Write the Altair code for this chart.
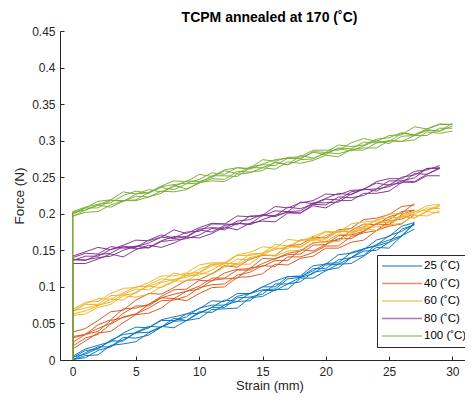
import altair as alt
import pandas as pd

# ---------------- data (force values in mN) -------------
STRAIN_MM = [0, 1, 2, 3, 4, 5, 6, 7, 8, 9, 10, 11, 12, 13, 14, 15, 16, 17, 18, 19,
             20, 21, 22, 23, 24, 25, 26, 27, 28, 29, 30]

GROUPS = ["25 (˚C)", "40 (˚C)", "60 (˚C)", "80 (˚C)", "100 (˚C)"]
COLORS = ["#0072BD", "#D95319", "#EDB120", "#7E2F8E", "#77AC30"]

FORCE_25 = [
    [0, 6, 7, 20, 22, 25, 37, 46, 44, 54, 57, 69, 70, 71, 85, 87, 96, 97, 112, 112, 122, 131, 132, 142, 154, 153, 170, 179],
    [1, 3, 13, 18, 31, 30, 34, 45, 53, 54, 66, 65, 75, 80, 81, 95, 95, 104, 107, 120, 123, 126, 140, 149, 150, 161, 169, 188],
    [0, 10, 18, 18, 28, 37, 38, 45, 57, 54, 64, 72, 72, 85, 86, 90, 104, 104, 113, 118, 130, 131, 140, 143, 158, 164, 170, 186],
    [4, 8, 16, 26, 26, 38, 46, 45, 53, 63, 64, 72, 82, 80, 91, 96, 97, 111, 113, 125, 125, 137, 140, 152, 156, 161, 179, 185],
    [3, 13, 15, 27, 35, 37, 44, 54, 54, 59, 71, 75, 75, 87, 91, 100, 100, 114, 114, 122, 132, 133, 147, 152, 157, 170, 176, 186],
    [5, 15, 20, 25, 37, 45, 44, 55, 59, 63, 70, 81, 80, 91, 91, 100, 108, 114, 115, 129, 131, 144, 146, 151, 164, 169, 183, 188],
]
FORCE_40 = [
    [15, 26, 37, 39, 51, 62, 64, 71, 84, 81, 91, 99, 100, 113, 114, 118, 131, 130, 139, 142, 153, 153, 161, 164, 177, 183, 186, 199],
    [19, 30, 35, 49, 59, 63, 71, 81, 82, 87, 99, 103, 104, 116, 120, 129, 128, 141, 141, 147, 156, 156, 169, 174, 177, 190, 193, 200],
    [24, 35, 39, 54, 58, 63, 76, 85, 84, 94, 97, 109, 111, 112, 126, 128, 136, 136, 151, 149, 158, 166, 166, 176, 186, 185, 199, 205],
    [30, 35, 43, 50, 64, 74, 74, 85, 90, 94, 101, 112, 112, 123, 123, 132, 139, 144, 145, 157, 158, 170, 171, 176, 187, 192, 203, 205],
    [32, 35, 48, 55, 70, 71, 76, 87, 96, 97, 109, 108, 119, 124, 125, 139, 138, 146, 149, 160, 162, 164, 177, 186, 185, 196, 201, 214],
    [38, 43, 54, 66, 68, 82, 91, 90, 99, 109, 110, 118, 129, 127, 138, 143, 143, 156, 158, 168, 167, 178, 180, 192, 194, 199, 210, 212],
]
FORCE_60 = [
    [61, 63, 72, 76, 88, 86, 90, 100, 108, 108, 119, 117, 127, 131, 131, 144, 142, 149, 150, 161, 161, 162, 173, 180, 177, 185, 187, 198, 197, 204],
    [63, 67, 74, 83, 82, 93, 101, 99, 107, 116, 116, 123, 133, 130, 140, 144, 143, 155, 155, 165, 162, 172, 172, 182, 182, 184, 196, 194, 203, 201],
    [67, 71, 75, 79, 90, 97, 96, 106, 110, 113, 119, 129, 128, 138, 137, 145, 151, 155, 154, 166, 165, 176, 175, 178, 187, 189, 197, 194, 204, 210],
    [66, 76, 76, 88, 89, 91, 103, 111, 109, 118, 120, 131, 132, 132, 145, 146, 153, 152, 165, 163, 170, 177, 175, 183, 191, 187, 198, 199, 208, 207],
    [67, 77, 84, 83, 92, 100, 101, 107, 119, 115, 124, 131, 131, 143, 143, 146, 158, 156, 163, 166, 175, 174, 180, 181, 192, 195, 195, 203, 205, 212],
    [69, 79, 80, 91, 98, 99, 106, 115, 115, 119, 130, 133, 133, 144, 147, 155, 153, 165, 163, 169, 176, 175, 186, 189, 190, 200, 200, 202, 211, 213],
]
FORCE_80 = [
    [132, 132, 138, 145, 141, 151, 157, 154, 160, 168, 167, 173, 182, 178, 187, 190, 189, 201, 201, 211, 208, 218, 218, 228, 228, 231, 243, 243, 252, 252],
    [137, 137, 140, 142, 150, 156, 153, 162, 164, 166, 171, 180, 178, 187, 185, 192, 198, 202, 201, 213, 212, 223, 222, 225, 234, 237, 245, 244, 254, 262],
    [138, 136, 144, 146, 155, 152, 154, 163, 169, 168, 178, 175, 184, 187, 186, 198, 196, 203, 204, 215, 215, 216, 227, 234, 231, 240, 242, 255, 254, 263],
    [136, 142, 142, 151, 155, 155, 160, 168, 166, 169, 179, 181, 180, 190, 192, 199, 197, 209, 207, 213, 220, 219, 230, 233, 234, 245, 245, 249, 262, 262],
    [140, 146, 145, 155, 153, 154, 164, 171, 167, 175, 176, 186, 186, 185, 197, 197, 204, 203, 216, 214, 221, 228, 226, 234, 242, 239, 250, 253, 262, 263],
    [142, 148, 154, 151, 157, 164, 163, 168, 178, 173, 181, 187, 186, 197, 196, 198, 210, 208, 215, 218, 227, 226, 232, 233, 244, 248, 248, 258, 260, 266],
]
FORCE_100 = [
    [197, 202, 203, 212, 218, 218, 223, 231, 230, 233, 243, 245, 244, 254, 256, 263, 261, 271, 269, 273, 280, 278, 288, 290, 290, 300, 299, 301, 312, 310, 313],
    [196, 205, 212, 209, 217, 224, 223, 228, 239, 234, 242, 248, 247, 258, 257, 259, 271, 267, 274, 275, 284, 282, 287, 287, 297, 300, 299, 307, 307, 317, 317],
    [199, 208, 208, 218, 218, 219, 229, 236, 233, 241, 242, 252, 252, 251, 263, 263, 270, 267, 280, 276, 283, 289, 286, 293, 300, 296, 306, 307, 314, 313, 320],
    [202, 205, 212, 219, 217, 227, 233, 230, 237, 245, 244, 250, 259, 255, 264, 267, 266, 276, 276, 284, 281, 290, 289, 298, 297, 299, 310, 308, 315, 313, 324],
    [203, 209, 213, 215, 225, 231, 228, 237, 240, 242, 247, 256, 254, 263, 261, 268, 274, 276, 275, 285, 284, 294, 292, 294, 302, 304, 311, 308, 316, 322, 322],
    [201, 208, 217, 219, 230, 227, 229, 238, 245, 244, 254, 251, 260, 263, 262, 274, 272, 277, 278, 287, 287, 287, 297, 303, 299, 307, 308, 319, 316, 323, 322],
]

X_TICKS = [0, 5, 10, 15, 20, 25, 30]
Y_TICKS = [0, 0.05, 0.1, 0.15, 0.2, 0.25, 0.3, 0.35, 0.4, 0.45]

# ---------------- table -------------
rows = []
for group, trials in zip(GROUPS, [FORCE_25, FORCE_40, FORCE_60, FORCE_80, FORCE_100]):
    for t, series in enumerate(trials):
        tid = f"{group}-{t}"
        rows.append({"group": group, "trial": tid, "idx": 0, "strain": 0, "force": 0.0})
        for i, v in enumerate(series):
            rows.append({"group": group, "trial": tid, "idx": i + 1,
                         "strain": STRAIN_MM[i], "force": v / 1000.0})
df = pd.DataFrame(rows)

FONT = "Liberation Sans"
AX = "#262626"
W, H = 405, 329

xscale = alt.Scale(domain=[-1, 31], nice=False, zero=False)
yscale = alt.Scale(domain=[0, 0.45], nice=False, zero=False)

lines = alt.Chart(df).mark_line(strokeWidth=0.95, clip=True).encode(
    x=alt.X("strain:Q", scale=xscale,
            axis=alt.Axis(values=X_TICKS, title="Strain (mm)", ticks=False, grid=False,
                          labelPadding=6, titlePadding=2, titleX=209.5,
                          domainColor=AX, labelColor=AX, titleColor=AX,
                          labelFont=FONT, titleFont=FONT, labelFontSize=12,
                          titleFontSize=13, titleFontWeight="normal")),
    y=alt.Y("force:Q", scale=yscale,
            axis=alt.Axis(values=Y_TICKS, format=".2~f", title="Force (N)", ticks=False,
                          grid=False, labelPadding=5, titlePadding=5,
                          domainColor=AX, labelColor=AX, titleColor=AX,
                          labelFont=FONT, titleFont=FONT, labelFontSize=12,
                          titleFontSize=13.5, titleFontWeight="normal")),
    color=alt.Color("group:N", scale=alt.Scale(domain=GROUPS, range=COLORS),
                    legend=alt.Legend(orient="none", legendX=317, legendY=224, title=None,
                                      symbolType="M-4,0H4", symbolSize=100,
                                      symbolOffset=14, labelOffset=16,
                                      symbolStrokeWidth=1.6, symbolOpacity=0.65,
                                      labelFont=FONT, labelFontSize=11.5, labelColor="#000000",
                                      rowPadding=5.5, padding=5, strokeColor=AX,
                                      fillColor="white")),
    detail="trial:N",
    order="idx:Q",
)

tick_layer = alt.Chart(df).mark_point(opacity=0).encode(
    x=alt.X("strain:Q", scale=xscale,
            axis=alt.Axis(orient="top", offset=-H, values=X_TICKS, labels=False, domain=False,
                          grid=False, title="", tickSize=4, tickColor=AX)),
    y=alt.Y("force:Q", scale=yscale,
            axis=alt.Axis(orient="right", offset=-W, values=Y_TICKS, labels=False, domain=False,
                          grid=False, title="", tickSize=4, tickColor=AX)),
)

chart = alt.layer(lines, tick_layer).resolve_axis(
    x="independent", y="independent"
).properties(
    width=W, height=H,
    padding={"left": 52, "top": 23, "right": 0, "bottom": 33},
    autosize=alt.AutoSizeParams(type="none"),
    title=alt.Title("TCPM annealed at 170 (˚C)", font=FONT, fontSize=14, fontWeight="bold",
                    color="#000000", anchor="middle", dx=7, offset=0),
).configure_view(stroke=None)

chart.save("out.html", embed_options={"renderer": "svg", "actions": False})
